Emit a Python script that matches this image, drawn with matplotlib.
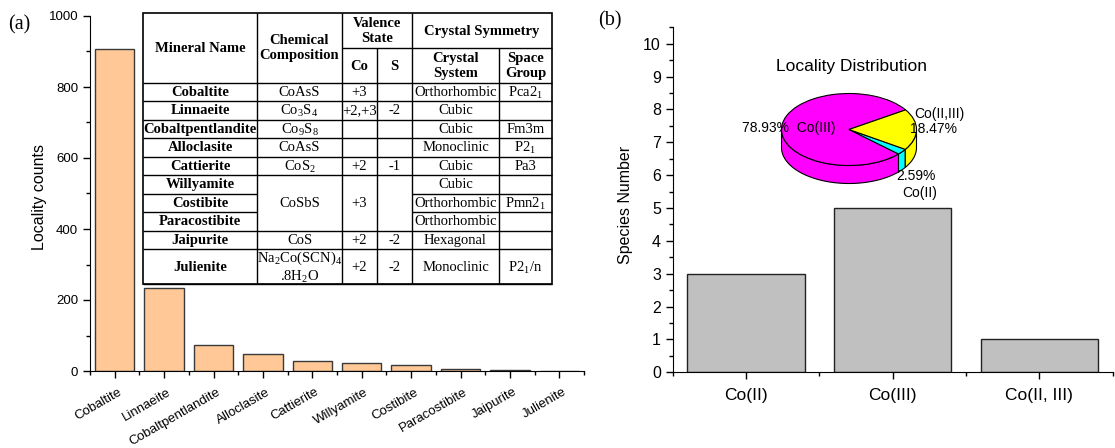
import numpy as np
import matplotlib
matplotlib.use("Agg")
from matplotlib import pyplot as plt
from matplotlib.patches import Rectangle, Polygon
from matplotlib.transforms import ScaledTranslation

plt.rcParams['font.family'] = ['Liberation Sans', 'DejaVu Sans']
plt.rcParams['mathtext.fontset'] = 'custom'
plt.rcParams['mathtext.rm'] = 'Liberation Serif'
plt.rcParams['mathtext.bf'] = 'Liberation Serif:bold'

# ---- data ----
minerals = ["Cobaltite", "Linnaeite", "Cobaltpentlandite", "Alloclasite", "Cattierite",
            "Willyamite", "Costibite", "Paracostibite", "Jaipurite", "Julienite"]
locality = [907, 234, 74, 47, 27, 22, 17, 5, 3, 1]

valence_groups = ["Co(II)", "Co(III)", "Co(II, III)"]
species_number = [3, 5, 1]

pie_labels = ["Co(III)", "Co(II)", "Co(II,III)"]
pie_pcts = [78.93, 2.59, 18.47]
pie_colors = ["#FF00FF", "#00FFFF", "#FFFF00"]

# table columns, (text, rows spanned)
tab_comp = [("CoAsS", 1), (r"Co$_\mathrm{3}$S$_\mathrm{4}$", 1), (r"Co$_\mathrm{9}$S$_\mathrm{8}$", 1),
            ("CoAsS", 1), (r"CoS$_\mathrm{2}$", 1), ("CoSbS", 3), ("CoS", 1),
            ("Na$_\\mathrm{2}$Co(SCN)$_\\mathrm{4}$\n.8H$_\\mathrm{2}$O", 1)]
tab_co = [("+3", 1), ("+2,+3", 1), ("", 1), ("", 1), ("+2", 1), ("+3", 3), ("+2", 1), ("+2", 1)]
tab_s = [("", 1), ("-2", 1), ("", 1), ("", 1), ("-1", 1), ("", 3), ("-2", 1), ("-2", 1)]
tab_system = ["Orthorhombic", "Cubic", "Cubic", "Monoclinic", "Cubic", "Cubic",
              "Orthorhombic", "Orthorhombic", "Hexagonal", "Monoclinic"]
tab_group = [r"Pca2$_\mathrm{1}$", "", "Fm3m", r"P2$_\mathrm{1}$", "Pa3", "",
             r"Pmn2$_\mathrm{1}$", "", "", r"P2$_\mathrm{1}$/n"]

W, H = 1115, 448
fig = plt.figure(figsize=(W / 100, H / 100), dpi=100)

def box(l, t, r, b):
    return [l / W, 1 - b / H, (r - l) / W, (b - t) / H]

# ---- (a) bar chart ----
ax1 = fig.add_axes(box(90, 16, 584, 371))
x1 = np.arange(len(minerals))
ax1.bar(x1, locality, width=0.8, color="#FFC896", edgecolor="#3a3a3a", linewidth=1.0)
ax1.set_xlim(-0.5, len(minerals) - 0.5)
ax1.set_ylim(0, 1000)
ax1.set_yticks(np.arange(0, 1001, 200))
ax1.set_yticks(np.arange(0, 1001, 100), minor=True)
ax1.set_xticks(x1)
ax1.set_xticks(np.arange(-0.5, len(minerals), 1), minor=True)
ax1.set_xticklabels([])
# rotated category labels, shifted a little right/down like the original
lab_tr = ax1.get_xaxis_transform() + ScaledTranslation(3 / 100, -15 / 100, fig.dpi_scale_trans)
for xi, name in zip(x1, minerals):
    ax1.text(xi, 0, name, transform=lab_tr, rotation=30, ha="right", va="top",
             rotation_mode="anchor", fontsize=9.5, clip_on=False)
ax1.tick_params(axis="y", labelsize=9.5)
ax1.tick_params(which="major", direction="out", length=5, width=1)
ax1.tick_params(which="minor", direction="out", length=3, width=1)
ax1.set_ylabel("Locality counts", fontsize=11.5)
ax1.yaxis.set_label_coords(-0.088, 0.49)
for sp in ["top", "right"]:
    ax1.spines[sp].set_visible(False)

# ---- (b) bar chart ----
ax2 = fig.add_axes(box(672.7, 27.3, 1112.7, 372.3))
x2 = np.arange(len(valence_groups))
ax2.bar(x2, species_number, width=0.8, color="#C0C0C0", edgecolor="#222222", linewidth=1.0)
ax2.set_xlim(-0.5, len(valence_groups) - 0.5)
ax2.set_ylim(0, 10.5)
ax2.set_yticks(np.arange(0, 11, 1))
ax2.set_yticks(np.arange(0, 10.6, 0.5), minor=True)
ax2.set_xticks(x2)
ax2.set_xticks(np.arange(-0.5, len(valence_groups), 1), minor=True)
ax2.set_xticklabels(valence_groups, fontsize=12.5)
ax2.tick_params(axis="y", labelsize=11.5)
ax2.tick_params(axis="x", pad=6)
ax2.tick_params(which="major", direction="out", length=5, width=1)
ax2.tick_params(which="minor", direction="out", length=3, width=1)
ax2.set_ylabel("Species Number", fontsize=11.5)
ax2.yaxis.set_label_coords(-0.09, 0.485)
for sp in ["top", "right"]:
    ax2.spines[sp].set_visible(False)

# ---- pie inset (pseudo 3D) ----
cx, cy, ra, rb = 849, 129.5, 67.5, 36
depth = 0.5
axp = fig.add_axes(box(cx - 1.2 * ra, cy - 1.2 * rb, cx + 1.2 * ra, cy + 1.8 * rb))
wedges, _ = axp.pie(pie_pcts, colors=pie_colors, startangle=33, counterclock=True,
                    wedgeprops=dict(edgecolor="k", linewidth=0.8))
for w in wedges:
    w.set_zorder(3)
    t1, t2 = w.theta1, w.theta2
    for k in (0, 360):
        lo, hi = max(t1, 180 + k), min(t2, 360 + k)
        if lo < hi:
            th = np.radians(np.linspace(lo, hi, 80))
            top = np.column_stack([np.cos(th), np.sin(th)])
            bot = np.column_stack([np.cos(th), np.sin(th) - depth])[::-1]
            axp.add_patch(Polygon(np.vstack([top, bot]), closed=True, facecolor=w.get_facecolor(),
                                  edgecolor="k", linewidth=0.8, zorder=2))
axp.set_aspect("auto")
axp.set_xlim(-1.2, 1.2)
axp.set_ylim(-1.8, 1.2)
axp.axis("off")

# ---- overlay for table and texts ----
ov = fig.add_axes([0, 0, 1, 1], zorder=10)
ov.set_xlim(0, W)
ov.set_ylim(H, 0)
ov.axis("off")
ov.patch.set_visible(False)

ov.text(8, 25, "(a)", fontsize=14.5, family="Liberation Serif", va="center", ha="left")
ov.text(598, 21, "(b)", fontsize=14.5, family="Liberation Serif", va="center", ha="left")

ov.text(852, 67, "Locality Distribution", fontsize=12.5, ha="center", va="center")
ov.text(742, 128, f"{pie_pcts[0]:.2f}%  {pie_labels[0]}", fontsize=10, ha="left", va="center")
ov.text(914, 114, pie_labels[2], fontsize=10, ha="left", va="center")
ov.text(910, 129, f"{pie_pcts[2]:.2f}%", fontsize=10, ha="left", va="center")
ov.text(896, 176.5, f"{pie_pcts[1]:.2f}%", fontsize=10, ha="left", va="center")
ov.text(902, 192.5, pie_labels[1], fontsize=10, ha="left", va="center")

# table geometry (pixels)
cols = [143, 257.3, 341.7, 377.3, 411.7, 499.3, 551.7]
top, mid, hbot = 12.7, 48.3, 82.7
row_h = [18.5] * 9 + [35]
rows = list(hbot + np.concatenate([[0], np.cumsum(row_h)]))
lw = 1.0
serif = "Liberation Serif"
fs = 10.5

ov.add_patch(Rectangle((cols[0], top), cols[-1] - cols[0], rows[-1] - top,
                       facecolor="white", edgecolor="k", linewidth=1.2, zorder=1))

def hline(y, x0, x1_):
    ov.plot([x0, x1_], [y, y], color="k", lw=lw, solid_capstyle="butt", zorder=2)

def vline(x, y0, y1_):
    ov.plot([x, x], [y0, y1_], color="k", lw=lw, solid_capstyle="butt", zorder=2)

def cell(txt, ci, y0, y1_, bold=False, span=1):
    xm = (cols[ci] + cols[ci + span]) / 2
    ov.text(xm, (y0 + y1_) / 2 + 0.5, txt, ha="center", va="center", fontsize=fs,
            family=serif, fontweight="bold" if bold else "normal", linespacing=1.15, zorder=3)

# header
hline(hbot, cols[0], cols[-1])
hline(mid, cols[2], cols[-1])
for ci in (1, 2, 4):
    vline(cols[ci], top, rows[-1])
for ci in (3, 5):
    vline(cols[ci], mid, rows[-1])
cell("Mineral Name", 0, top, hbot, bold=True)
cell("Chemical\nComposition", 1, top, hbot, bold=True)
cell("Valence\nState", 2, top, mid, bold=True, span=2)
cell("Crystal Symmetry", 4, top, mid, bold=True, span=2)
cell("Co", 2, mid, hbot, bold=True)
cell("S", 3, mid, hbot, bold=True)
cell("Crystal\nSystem", 4, mid, hbot, bold=True)
cell("Space\nGroup", 5, mid, hbot, bold=True)

# body
for i, name in enumerate(minerals):
    cell(name, 0, rows[i], rows[i + 1], bold=True)
    hline(rows[i + 1], cols[0], cols[1])
    cell(tab_system[i], 4, rows[i], rows[i + 1])
    cell(tab_group[i], 5, rows[i], rows[i + 1])
    hline(rows[i + 1], cols[4], cols[6])

for ci, col in ((1, tab_comp), (2, tab_co), (3, tab_s)):
    r = 0
    for txt, span in col:
        cell(txt, ci, rows[r], rows[r + span])
        r += span
        hline(rows[r], cols[ci], cols[ci + 1])

fig.savefig("out.png", dpi=100)
